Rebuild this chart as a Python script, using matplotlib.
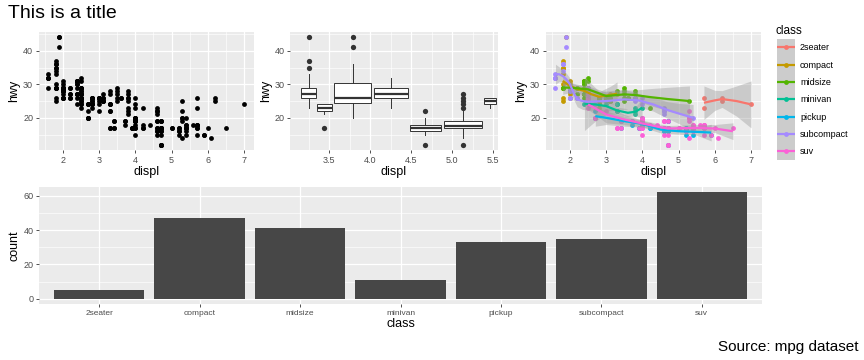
import matplotlib
matplotlib.use('Agg')
import numpy as np
import matplotlib.pyplot as plt
from matplotlib.ticker import MultipleLocator

plt.rcParams['font.family'] = ['Liberation Sans', 'DejaVu Sans']

classes = ['2seater', 'compact', 'midsize', 'minivan', 'pickup', 'subcompact', 'suv']
colors = ['#F8766D', '#C49A00', '#53B400', '#00C094', '#00B6EB', '#A58AFF', '#FB61D7']
counts = [5, 47, 41, 11, 33, 35, 62]

# points (displ, hwy) per class
displ_2seater = [5.7, 5.7, 6.2, 6.2, 7.0]
hwy_2seater = [26, 23, 26, 25, 24]
displ_compact = [1.8, 1.8, 2.0, 2.0, 2.8, 2.8, 3.1, 1.8, 1.8, 2.0, 2.0, 2.8, 2.8, 3.1, 3.1,
                 2.2, 2.2, 2.4, 2.4, 3.0, 3.0, 3.3, 1.8, 1.8, 1.8, 1.8, 1.8,
                 2.0, 2.0, 2.0, 2.0, 2.8, 1.9, 2.0, 2.0, 2.0, 2.0, 2.5, 2.5, 2.8, 2.8,
                 2.5, 2.5, 2.5, 2.5]
hwy_compact = [29, 29, 31, 30, 26, 26, 27, 26, 25, 28, 27, 25, 25, 25, 25,
               27, 29, 31, 31, 26, 26, 27, 30, 33, 35, 37, 35,
               29, 26, 29, 29, 24, 44, 29, 26, 29, 29, 29, 29, 23, 24,
               28, 27, 24, 27]
displ_midsize = [2.8, 3.1, 4.2, 2.4, 2.4, 3.1, 3.5, 3.6, 2.4, 2.4, 2.5, 2.5, 2.4, 2.4, 3.3,
                 2.4, 2.4, 2.5, 2.5, 3.5, 3.5, 3.0, 3.0, 3.5, 3.1, 3.8, 3.8, 3.8, 5.3,
                 2.2, 2.2, 2.4, 2.4, 3.0, 3.0, 3.5, 1.8, 1.8, 2.0, 2.0, 2.8, 2.8, 3.6]
hwy_midsize = [24, 25, 23, 27, 30, 26, 29, 26, 26, 27, 26, 26, 30, 31, 28,
               27, 29, 31, 32, 27, 26, 26, 25, 25, 26, 26, 27, 28, 25,
               29, 27, 31, 31, 26, 26, 28, 29, 29, 28, 29, 26, 26, 26]
displ_minivan = [2.4, 3.0, 3.3, 3.3, 3.3, 3.3, 3.3, 3.8, 3.8, 3.8, 4.0]
hwy_minivan = [24, 24, 22, 24, 24, 24, 22, 22, 21, 23, 23]
displ_pickup = [3.7, 3.7, 3.9, 3.9, 4.7, 4.7, 4.7, 5.2, 5.2,
                4.7, 4.7, 4.7, 4.7, 4.7, 4.7, 5.2, 5.2, 5.7, 5.9,
                4.2, 4.2, 4.6, 4.6, 4.6, 5.4, 5.4,
                2.7, 2.7, 2.7, 3.4, 3.4, 4.0, 4.0]
hwy_pickup = [19, 18, 17, 17, 19, 19, 12, 17, 17,
              16, 12, 17, 17, 16, 12, 15, 16, 17, 15,
              17, 17, 16, 16, 17, 15, 17,
              20, 20, 22, 17, 19, 18, 20]
displ_subcompact = [3.8, 3.8, 4.0, 4.0, 4.6, 4.6, 4.6, 4.6, 5.4,
                    1.6, 1.6, 1.6, 1.6, 1.6, 1.8, 1.8, 1.8, 2.0,
                    2.0, 2.0, 2.0, 2.0, 2.7, 2.7, 2.7,
                    2.2, 2.2, 2.5, 2.5, 1.9, 1.9, 2.0, 2.0, 2.5, 2.5]
hwy_subcompact = [26, 25, 26, 24, 21, 22, 23, 22, 20,
                  33, 32, 32, 29, 32, 34, 36, 36, 29,
                  26, 29, 28, 29, 24, 24, 24,
                  26, 26, 26, 26, 44, 41, 29, 26, 28, 29]
displ_suv = [5.3, 5.3, 5.3, 5.7, 6.0, 5.3, 5.3, 5.7, 6.5,
             3.9, 4.7, 4.7, 4.7, 5.2, 5.7, 5.9, 4.6, 5.4, 5.4,
             4.0, 4.0, 4.0, 4.0, 4.6, 5.0, 3.0, 3.7, 4.0, 4.7, 4.7, 4.7, 5.7, 6.1,
             4.0, 4.2, 4.4, 4.6, 5.4, 5.4, 5.4, 4.0, 4.0, 4.6, 5.0,
             3.3, 3.3, 4.0, 5.6, 2.5, 2.5, 2.5, 2.5, 2.5, 2.5,
             2.7, 2.7, 3.4, 3.4, 4.0, 4.7, 4.7, 5.7]
hwy_suv = [20, 22, 20, 17, 17, 19, 14, 15, 17,
           17, 17, 17, 12, 16, 18, 15, 17, 17, 18,
           17, 19, 19, 19, 19, 17, 22, 19, 20, 17, 12, 19, 18, 14,
           15, 18, 18, 15, 17, 16, 18, 17, 19, 19, 17,
           17, 17, 20, 18, 25, 24, 27, 25, 26, 23,
           20, 20, 19, 17, 20, 17, 15, 18]

displ_by_class = [displ_2seater, displ_compact, displ_midsize, displ_minivan,
                  displ_pickup, displ_subcompact, displ_suv]
hwy_by_class = [hwy_2seater, hwy_compact, hwy_midsize, hwy_minivan,
                hwy_pickup, hwy_subcompact, hwy_suv]

# boxplot panel
box_pos = [3.25, 3.44, 3.785, 4.25, 4.67, 5.13, 5.465]
box_width = [0.18, 0.19, 0.45, 0.42, 0.38, 0.46, 0.15]
box_med = [27, 23, 26, 27, 17, 17.5, 25]
box_q1 = [26, 22, 24.5, 26, 16, 17, 24]
box_q3 = [29, 24, 30.5, 29, 18, 19, 26]
box_lo = [23, 21, 20, 23, 15, 14, 23]
box_hi = [33, 24, 36, 32, 20, 22, 26]
box_out = [[35, 37, 44], [17], [41, 44], [], [22, 12], [12, 23, 24, 25, 26, 27], []]

# smoothed curves per class (x, fit, half width of band)
smooth_x = {
    '2seater': [5.7, 6.0, 6.2, 6.6, 7.0],
    'compact': [1.8, 2.0, 2.2, 2.4, 2.6, 2.8, 3.1, 3.3],
    'midsize': [1.8, 2.0, 2.5, 3.0, 3.5, 3.8, 4.2, 4.7, 5.3],
    'minivan': [2.4, 2.7, 3.0, 3.3, 3.6, 3.8, 4.0],
    'pickup': [2.7, 3.0, 3.5, 4.0, 4.5, 5.0, 5.5, 5.9],
    'subcompact': [1.6, 1.7, 1.8, 1.9, 2.0, 2.1, 2.2, 2.35, 2.5, 3.0, 3.5, 3.9, 4.3, 4.7, 5.0, 5.4],
    'suv': [2.5, 3.0, 3.5, 4.0, 4.5, 4.7, 5.0, 5.5, 6.0, 6.5],
}
smooth_y = {
    '2seater': [24.5, 25.2, 25.6, 25.0, 24.0],
    'compact': [31, 29.5, 28.6, 28, 27, 26.3, 26.8, 27.2],
    'midsize': [29, 29, 28.5, 26.5, 27, 26.8, 26.2, 25.6, 25],
    'minivan': [24.2, 24.0, 23.5, 22.2, 21.5, 21.8, 23.0],
    'pickup': [20.5, 20, 19, 18.2, 16.5, 16.0, 15.8, 15.6],
    'subcompact': [33, 33, 32.5, 31.5, 30, 27.5, 25.5, 25, 24.8, 25, 25.5, 25.2, 24, 22.3, 21.3, 20],
    'suv': [24, 21, 19.5, 18.3, 17.2, 16.8, 16.9, 17.0, 16.8, 16.0],
}
smooth_hw = {
    '2seater': [5, 3.0, 2.5, 4.5, 7.0],
    'compact': [1.5, 1.0, 1.2, 1.5, 1.8, 1.5, 2.5, 3.5],
    'midsize': [2, 1.5, 1.0, 1.2, 1.3, 1.5, 2.5, 3.5, 4.5],
    'minivan': [8, 5, 2.5, 1.0, 1.2, 1.2, 3.0],
    'pickup': [3, 2, 1.5, 1, 1, 0.9, 1.0, 2.5],
    'subcompact': [3, 2.2, 1.8, 1.8, 1.8, 2, 2.2, 2.5, 2.5, 3, 3, 2, 2, 2.5, 3, 4],
    'suv': [1.5, 2.5, 1.5, 1.0, 0.9, 0.9, 0.9, 1.0, 1.2, 2.5],
}

W, H = 864, 360
fig = plt.figure(figsize=(8.64, 3.6), dpi=100)


def box(l, t, r, b):
    return [l / W, 1 - b / H, (r - l) / W, (b - t) / H]


def style(ax):
    ax.set_facecolor('#EBEBEB')
    for s in ax.spines.values():
        s.set_visible(False)
    ax.grid(which='major', color='white', lw=0.9)
    ax.grid(which='minor', color='white', lw=0.45)
    ax.tick_params(which='major', length=2.5, width=0.6, color='#333333',
                   labelsize=6.5, labelcolor='#4D4D4D', pad=1.5)
    ax.tick_params(which='minor', length=0)
    ax.set_axisbelow(True)


def hwy_axis(ax):
    ax.set_ylim(10.4, 45.6)
    ax.yaxis.set_major_locator(MultipleLocator(10))
    ax.yaxis.set_minor_locator(MultipleLocator(5))
    ax.set_ylabel('hwy', fontsize=9, labelpad=2)
    ax.set_xlabel('displ', fontsize=9, labelpad=1)


# panel 1: scatter
ax1 = fig.add_axes(box(38.7, 32, 253.8, 150))
style(ax1)
for dx, hy in zip(displ_by_class, hwy_by_class):
    ax1.scatter(dx, hy, s=12, color='black', lw=0)
ax1.set_xlim(1.33, 7.27)
ax1.xaxis.set_major_locator(MultipleLocator(1))
ax1.xaxis.set_minor_locator(MultipleLocator(0.5))
hwy_axis(ax1)

# panel 2: boxplots
ax2 = fig.add_axes(box(290, 32, 498, 150))
style(ax2)
stats = []
for i in range(len(box_pos)):
    stats.append(dict(med=box_med[i], q1=box_q1[i], q3=box_q3[i],
                      whislo=box_lo[i], whishi=box_hi[i], fliers=box_out[i]))
ax2.bxp(stats, positions=box_pos, widths=box_width, patch_artist=True,
        manage_ticks=False,
        boxprops=dict(facecolor='white', edgecolor='#333333', lw=0.7),
        medianprops=dict(color='#333333', lw=1.6),
        whiskerprops=dict(color='#333333', lw=0.7),
        capprops=dict(lw=0),
        flierprops=dict(marker='o', markerfacecolor='#333333', markeredgecolor='none', markersize=3.8))
ax2.set_xlim(3.02, 5.56)
ax2.xaxis.set_major_locator(MultipleLocator(0.5))
ax2.xaxis.set_minor_locator(MultipleLocator(0.25))
hwy_axis(ax2)

# panel 3: coloured points + smooths
ax3 = fig.add_axes(box(545.7, 32, 760.8, 150))
style(ax3)
for dx, hy, c in zip(displ_by_class, hwy_by_class, colors):
    ax3.scatter(dx, hy, s=12, color=c, lw=0, zorder=2)
for cl, c in zip(classes, colors):
    x = np.array(smooth_x[cl])
    y = np.array(smooth_y[cl])
    hw = np.array(smooth_hw[cl])
    ax3.fill_between(x, y - hw, y + hw, color='#999999', alpha=0.4, lw=0, zorder=3)
    ax3.plot(x, y, color=c, lw=1.6, zorder=4, solid_capstyle='butt')
ax3.set_xlim(1.33, 7.27)
ax3.xaxis.set_major_locator(MultipleLocator(1))
ax3.xaxis.set_minor_locator(MultipleLocator(0.5))
hwy_axis(ax3)

# legend
fig.text(775 / W, 1 - 31 / H, 'class', fontsize=8.5, va='center', ha='left')
axl = fig.add_axes(box(776.5, 38.5, 795, 160))
axl.set_facecolor('#CCCCCC')
axl.set_xlim(0, 1)
axl.set_ylim(len(classes), 0)
axl.set_xticks([])
axl.set_yticks([])
for s in axl.spines.values():
    s.set_visible(False)
for i, (cl, c) in enumerate(zip(classes, colors)):
    axl.plot([0.08, 0.92], [i + 0.5, i + 0.5], color=c, lw=1.6)
    axl.scatter([0.5], [i + 0.5], s=12, color=c, lw=0, zorder=3)
    fig.text(800 / W, 1 - (47.7 + 17.35 * i) / H, cl, fontsize=6.5, va='center', ha='left')

# bottom: bar chart
ax4 = fig.add_axes(box(39, 187, 762, 304))
style(ax4)
ax4.bar(classes, counts, width=0.9, color='#474747', zorder=2)
ax4.set_xlim(-0.6, 6.6)
ax4.set_ylim(-3.1, 65.1)
ax4.yaxis.set_major_locator(MultipleLocator(20))
ax4.yaxis.set_minor_locator(MultipleLocator(10))
ax4.tick_params(axis='x', labelsize=6)
ax4.set_xlabel('class', fontsize=9, labelpad=1)
ax4.set_ylabel('count', fontsize=9, labelpad=2)

fig.text(8 / W, 1 - 13 / H, 'This is a title', fontsize=14, va='center', ha='left')
fig.text(858 / W, 1 - 347 / H, 'Source: mpg dataset', fontsize=11, va='center', ha='right')

fig.savefig('out.png', dpi=100, facecolor='white')
